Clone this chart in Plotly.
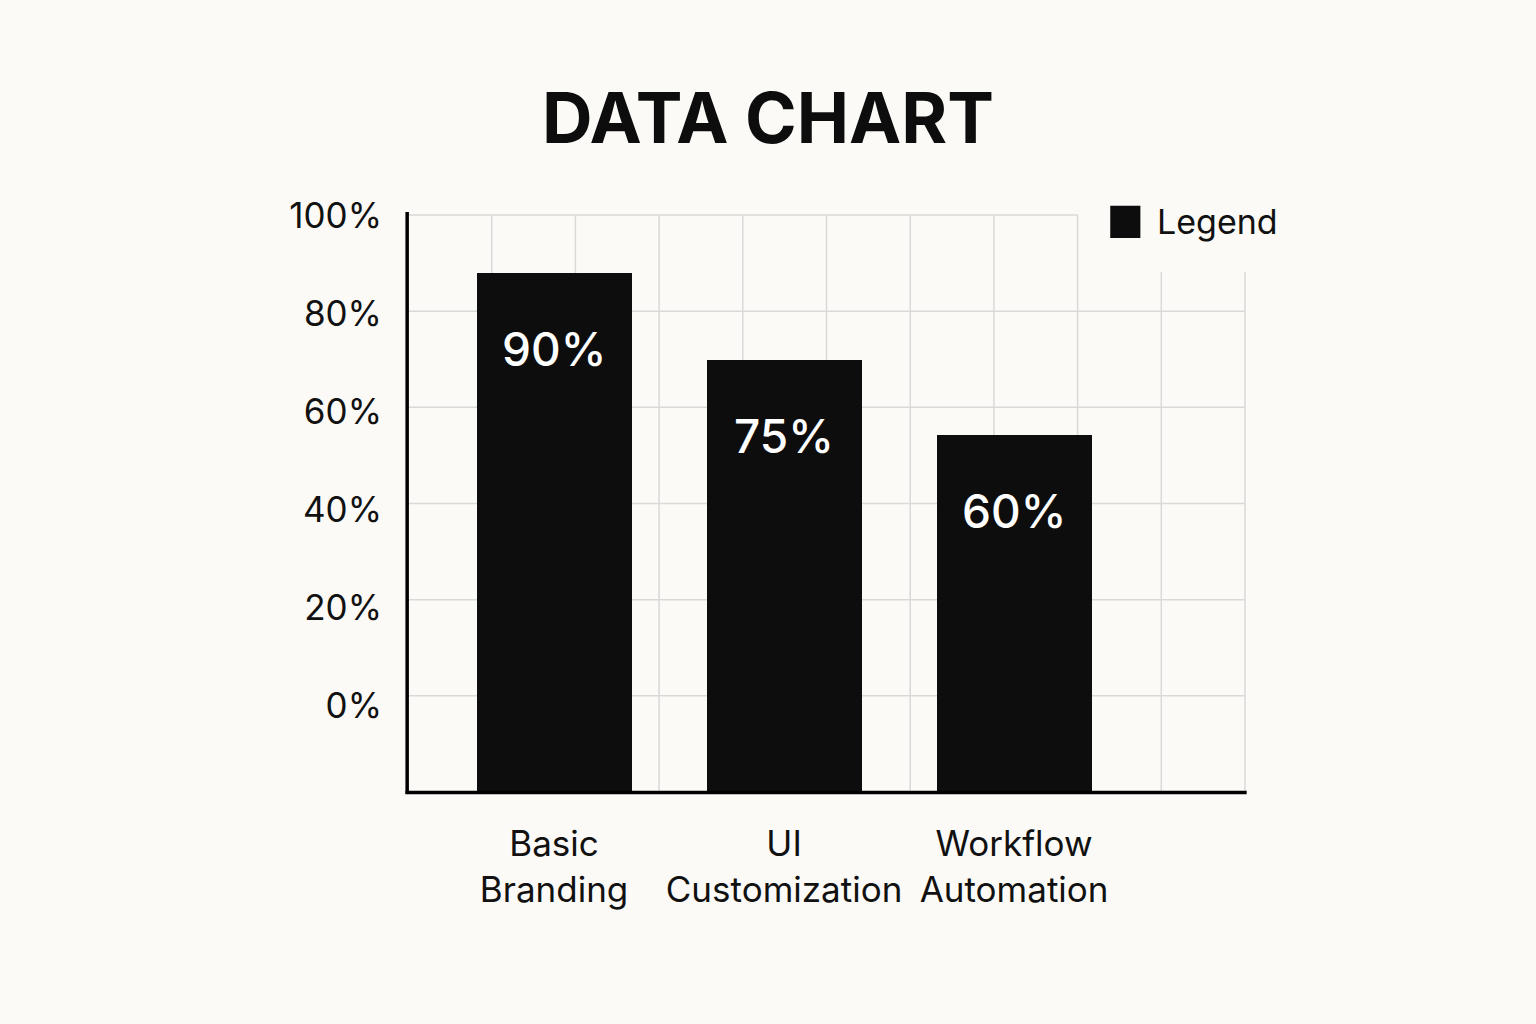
import plotly.graph_objects as go

categories = ["Basic<br>Branding", "UI<br>Customization", "Workflow<br>Automation"]
bar_heights = [88.4, 70.6, 55.3]          # bar tops as read against the y axis
bar_labels = ["90%", "75%", "60%"]         # printed labels
y_tick_vals = [0, 20, 40, 60, 80, 100]
y_tick_text = ["0%", "20%", "40%", "60%", "80%", "100%"]
legend_name = "Legend"
title_text = "DATA CHART"

Y_MIN, Y_MAX = -17.6, 100.2
BG = "#fbfaf6"
BAR = "#0d0d0d"
GRID = "#d9d9d9"
FONT = "Inter, Liberation Sans, Arial, sans-serif"

fig = go.Figure()
fig.add_trace(go.Bar(
    x=categories,
    y=[v - Y_MIN for v in bar_heights],
    base=Y_MIN,
    width=0.674,
    marker=dict(color=BAR, line=dict(width=0)),
    name=legend_name,
    showlegend=False,
    hoverinfo="skip",
))

for c, v, t in zip(categories, bar_heights, bar_labels):
    fig.add_annotation(x=c, y=v, text=t, showarrow=False, yshift=-76,
                       font=dict(family=FONT, size=46, color="white", weight=500))

shapes = []
# vertical grid lines (10 divisions)
for i in range(1, 11):
    x = i / 10
    y1 = 1.0 if x <= 0.8 + 1e-9 else 0.901
    shapes.append(dict(type="line", xref="paper", yref="paper", x0=x, x1=x, y0=0, y1=y1,
                       line=dict(color=GRID, width=1.5), layer="below"))
# horizontal grid lines (6 divisions)
for j in range(1, 7):
    y = j / 6
    x1 = 0.8 if j == 6 else 1.0
    shapes.append(dict(type="line", xref="paper", yref="paper", x0=0, x1=x1, y0=y, y1=y,
                       line=dict(color=GRID, width=1.5), layer="below"))
# axis lines
shapes.append(dict(type="line", xref="paper", yref="paper", x0=-0.001, x1=-0.001, y0=-0.003, y1=1.005,
                   line=dict(color="black", width=3.5)))
shapes.append(dict(type="line", xref="paper", yref="paper", x0=-0.003, x1=1.002, y0=-0.001, y1=-0.001,
                   line=dict(color="black", width=3.5)))
# legend swatch
shapes.append(dict(type="rect", xref="paper", yref="paper", x0=0.839, x1=0.875, y0=0.960, y1=1.016,
                   fillcolor=BAR, line=dict(width=0)))
fig.add_annotation(xref="paper", yref="paper", x=0.893, y=0.988, text=legend_name,
                   showarrow=False, xanchor="left", yanchor="middle",
                   font=dict(family=FONT, size=34, color="#111111"))

fig.update_layout(
    width=1536, height=1024,
    paper_bgcolor=BG, plot_bgcolor=BG,
    margin=dict(l=408, r=291, t=215, b=232),
    shapes=shapes,
    title=dict(text=title_text, x=0.5, xanchor="center", y=0.884, yanchor="middle",
               font=dict(family=FONT, size=70, color="#0d0d0d", weight="bold")),
    xaxis=dict(type="category", range=[-0.635, 3.004], showgrid=False, zeroline=False,
               showline=False, ticks="", ticklabelstandoff=28,
               tickfont=dict(family=FONT, size=35, color="#111111")),
    yaxis=dict(range=[Y_MIN, Y_MAX], tickvals=y_tick_vals, ticktext=y_tick_text,
               showgrid=False, zeroline=False, showline=False, ticks="",
               ticklabelstandoff=25,
               tickfont=dict(family=FONT, size=35, color="#111111")),
    bargap=0,
)

fig.write_html("out.html")
